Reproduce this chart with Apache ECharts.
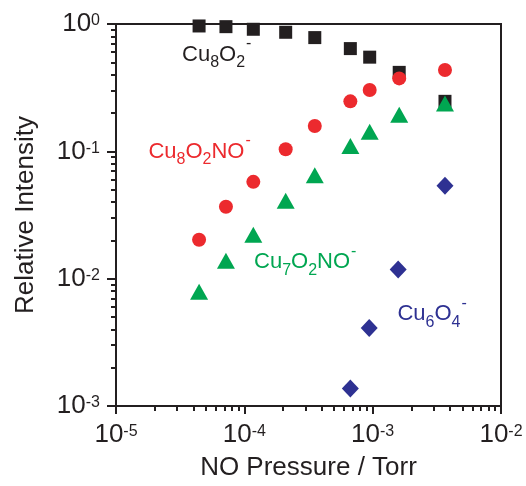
<!DOCTYPE html>
<html><head><meta charset="utf-8">
<script src="https://cdn.jsdelivr.net/npm/echarts@6/dist/echarts.min.js"></script>
<style>html,body{margin:0;padding:0;background:#fff}#c{width:526px;height:486px}</style>
</head><body><div id="c"></div>
<script>
// ---- data ----
const pressure = [4.44e-5, 7.19e-5, 1.175e-4, 2.10e-4, 3.54e-4, 6.70e-4, 9.48e-4, 1.61e-3, 3.66e-3];
const cu8o2   = [0.965, 0.953, 0.909, 0.861, 0.782, 0.641, 0.549, 0.417, 0.247];
const cu8o2no = [0.0202, 0.0367, 0.0576, 0.1037, 0.158, 0.247, 0.303, 0.374, 0.435];
const cu7o2no = [0.0079, 0.0138, 0.0221, 0.0409, 0.065, 0.110, 0.1426, 0.1936, 0.237];
const cu6o4Pressure = [6.70e-4, 9.40e-4, 1.58e-3, 3.66e-3];
const cu6o4   = [0.00137, 0.00409, 0.0118, 0.0536];
const xRange = [1e-5, 1e-2];
const yRange = [1e-3, 1];
const minorMultipliers = [2, 3, 4, 5, 6, 7, 8, 9];
const xDecades = [-5, -4, -3];
const yDecades = [-3, -2, -1];
// annotation labels: anchor in data space (pressure, intensity)
const labelNames = ['Cu8O2-', 'Cu8O2NO-', 'Cu7O2NO-', 'Cu6O4-'];
const labelX = [3.27e-5, 1.79e-5, 1.19e-4, 1.56e-3];
const labelY = [0.573, 0.0991, 0.01349, 0.00525];

const FONT = 'Liberation Sans, Arial, Helvetica, sans-serif';
const INK = '#231f20';
const COLORS = ['#231f20', '#ec2a2e', '#00a651', '#2e3192'];

function minorLog(decades) {
  const out = [];
  decades.forEach(d => minorMultipliers.forEach(m => out.push(Math.log10(m) + d)));
  return out;
}
function pairs(xs, ys) { return xs.map((x, i) => [x, ys[i]]); }
function ls() { return { color: INK, width: 2 }; }

function tickRich() {
  return {
    b: { fontSize: 26, lineHeight: 30, fontFamily: FONT, color: INK },
    s: { fontSize: 16, lineHeight: 30, padding: [0, 0, 6, 0], fontFamily: FONT, color: INK }
  };
}
function powFmt(v) { return '{b|10}{s|' + Math.round(Math.log10(v)) + '}'; }

const chart = echarts.init(document.getElementById('c'));
chart.setOption({
  animation: false,
  backgroundColor: '#fff',
  grid: { left: 116, right: 25, top: 24, bottom: 77, show: true, borderColor: INK, borderWidth: 2 },
  xAxis: [
    {
      type: 'log', min: xRange[0], max: xRange[1], position: 'bottom',
      axisLine: { show: true, onZero: false, lineStyle: ls() },
      axisTick: { show: true, length: 8, lineStyle: ls() },
      splitLine: { show: false },
      axisLabel: { margin: 14, formatter: powFmt, rich: tickRich() },
      name: 'NO Pressure / Torr', nameLocation: 'middle', nameGap: 49,
      nameTextStyle: { fontSize: 26, fontFamily: FONT, color: INK }
    },
    {
      type: 'value', min: Math.log10(xRange[0]), max: Math.log10(xRange[1]), position: 'bottom',
      axisLine: { show: false, onZero: false },
      axisTick: { show: true, length: 5, customValues: minorLog(xDecades), lineStyle: ls() },
      axisLabel: { show: false }, splitLine: { show: false }
    }
  ],
  yAxis: [
    {
      type: 'log', min: yRange[0], max: yRange[1],
      axisLine: { show: true, onZero: false, lineStyle: ls() },
      axisTick: { show: true, length: 9, lineStyle: ls() },
      splitLine: { show: false },
      axisLabel: { margin: 16, formatter: powFmt, rich: tickRich() },
      name: 'Relative Intensity', nameLocation: 'middle', nameGap: 77,
      nameTextStyle: { fontSize: 26, fontFamily: FONT, color: INK }
    },
    {
      type: 'value', min: Math.log10(yRange[0]), max: Math.log10(yRange[1]), position: 'left',
      axisLine: { show: false, onZero: false },
      axisTick: { show: true, length: 5, customValues: minorLog(yDecades), lineStyle: ls() },
      axisLabel: { show: false }, splitLine: { show: false }
    }
  ],
  series: [
    { name: labelNames[0], type: 'scatter', symbol: 'rect', symbolSize: 13, itemStyle: { color: COLORS[0], opacity: 1 }, data: pairs(pressure, cu8o2) },
    { name: labelNames[1], type: 'scatter', symbol: 'circle', symbolSize: 14, itemStyle: { color: COLORS[1], opacity: 1 }, data: pairs(pressure, cu8o2no) },
    { name: labelNames[2], type: 'scatter', symbol: 'triangle', symbolSize: [18, 16], itemStyle: { color: COLORS[2], opacity: 1 }, data: pairs(pressure, cu7o2no) },
    { name: labelNames[3], type: 'scatter', symbol: 'diamond', symbolSize: [17, 18], itemStyle: { color: COLORS[3], opacity: 1 }, data: pairs(cu6o4Pressure, cu6o4) }
  ]
});

// annotation text (Cu8O2- etc.) with sub/superscripts via token padding
function richFor(color) {
  return {
    m: { fontSize: 22, lineHeight: 30, fontFamily: FONT, fill: color },
    d: { fontSize: 16, lineHeight: 30, padding: [16, 0, 0, 0], fontFamily: FONT, fill: color },
    u: { fontSize: 16, lineHeight: 30, padding: [0, 0, 22, 1], fontFamily: FONT, fill: color }
  };
}
function formulaToRich(name) {
  let s = '';
  for (const ch of name) {
    if (ch >= '0' && ch <= '9') s += '{d|' + ch + '}';
    else if (ch === '-') s += '{u|-}';
    else s += '{m|' + ch + '}';
  }
  return s;
}
const graphics = labelNames.map((n, i) => {
  const p = chart.convertToPixel({ seriesIndex: 0 }, [labelX[i], labelY[i]]);
  return {
    type: 'text', x: p[0], y: p[1], silent: true, z: 10,
    style: { text: formulaToRich(n), rich: richFor(COLORS[i]), fill: COLORS[i], align: 'left', verticalAlign: 'middle', fontSize: 22, fontFamily: FONT }
  };
});
chart.setOption({ graphic: graphics });
</script>
</body></html>
